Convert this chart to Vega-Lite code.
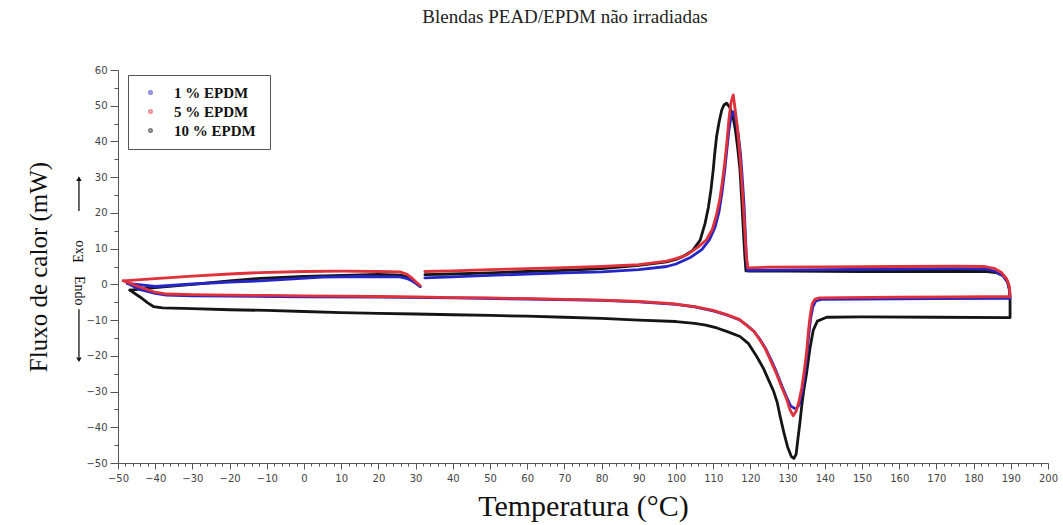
{
  "$schema": "https://vega.github.io/schema/vega-lite/v6.json",
  "width": 930,
  "height": 393,
  "autosize": {"type": "none"},
  "padding": {"left": 118, "top": 70, "right": 15, "bottom": 62},
  "background": "white",
  "config": {"view": {"stroke": null}, "font": "Liberation Serif"},
  "title": {"text": "Blendas PEAD/EPDM não irradiadas", "font": "Liberation Serif", "fontSize": 19, "fontWeight": "normal", "color": "#222", "anchor": "middle", "dx": -18, "offset": 38},
  "datasets": {
    "curves": [
      {"s":"10  % EPDM","g":"k1","i":1,"t":-46.8,"q":-1.6},{"s":"10  % EPDM","g":"k1","i":2,"t":-44,"q":-3.6},{"s":"10  % EPDM","g":"k1","i":3,"t":-42,"q":-5.2},{"s":"10  % EPDM","g":"k1","i":4,"t":-40.5,"q":-6.2},{"s":"10  % EPDM","g":"k1","i":5,"t":-38,"q":-6.6},{"s":"10  % EPDM","g":"k1","i":6,"t":-30,"q":-6.8},{"s":"10  % EPDM","g":"k1","i":7,"t":-20,"q":-7.1},{"s":"10  % EPDM","g":"k1","i":8,"t":-10,"q":-7.3},{"s":"10  % EPDM","g":"k1","i":9,"t":0,"q":-7.6},{"s":"10  % EPDM","g":"k1","i":10,"t":10,"q":-7.9},
      {"s":"10  % EPDM","g":"k1","i":11,"t":20,"q":-8.1},{"s":"10  % EPDM","g":"k1","i":12,"t":30,"q":-8.3},{"s":"10  % EPDM","g":"k1","i":13,"t":40,"q":-8.5},{"s":"10  % EPDM","g":"k1","i":14,"t":50,"q":-8.7},{"s":"10  % EPDM","g":"k1","i":15,"t":60,"q":-8.9},{"s":"10  % EPDM","g":"k1","i":16,"t":70,"q":-9.2},{"s":"10  % EPDM","g":"k1","i":17,"t":80,"q":-9.5},{"s":"10  % EPDM","g":"k1","i":18,"t":90,"q":-10.0},{"s":"10  % EPDM","g":"k1","i":19,"t":100,"q":-10.4},{"s":"10  % EPDM","g":"k1","i":20,"t":105,"q":-10.9},
      {"s":"10  % EPDM","g":"k1","i":21,"t":108,"q":-11.4},{"s":"10  % EPDM","g":"k1","i":22,"t":111,"q":-12.2},{"s":"10  % EPDM","g":"k1","i":23,"t":114,"q":-13.3},{"s":"10  % EPDM","g":"k1","i":24,"t":117.2,"q":-14.6},{"s":"10  % EPDM","g":"k1","i":25,"t":119.5,"q":-16.6},{"s":"10  % EPDM","g":"k1","i":26,"t":121.7,"q":-20.2},{"s":"10  % EPDM","g":"k1","i":27,"t":123.5,"q":-23.5},{"s":"10  % EPDM","g":"k1","i":28,"t":125,"q":-27},{"s":"10  % EPDM","g":"k1","i":29,"t":126.2,"q":-29.8},{"s":"10  % EPDM","g":"k1","i":30,"t":127.2,"q":-33},
      {"s":"10  % EPDM","g":"k1","i":31,"t":128,"q":-37},{"s":"10  % EPDM","g":"k1","i":32,"t":129,"q":-41.5},{"s":"10  % EPDM","g":"k1","i":33,"t":130,"q":-45.5},{"s":"10  % EPDM","g":"k1","i":34,"t":131,"q":-48.2},{"s":"10  % EPDM","g":"k1","i":35,"t":131.7,"q":-48.7},{"s":"10  % EPDM","g":"k1","i":36,"t":132.3,"q":-47.5},{"s":"10  % EPDM","g":"k1","i":37,"t":132.8,"q":-43},{"s":"10  % EPDM","g":"k1","i":38,"t":133.3,"q":-38.8},{"s":"10  % EPDM","g":"k1","i":39,"t":133.8,"q":-34},{"s":"10  % EPDM","g":"k1","i":40,"t":134.3,"q":-30},
      {"s":"10  % EPDM","g":"k1","i":41,"t":135.1,"q":-24.9},{"s":"10  % EPDM","g":"k1","i":42,"t":136,"q":-18},{"s":"10  % EPDM","g":"k1","i":43,"t":136.9,"q":-12.8},{"s":"10  % EPDM","g":"k1","i":44,"t":138,"q":-10.3},{"s":"10  % EPDM","g":"k1","i":45,"t":140.5,"q":-9.2},{"s":"10  % EPDM","g":"k1","i":46,"t":150,"q":-9.1},{"s":"10  % EPDM","g":"k1","i":47,"t":170,"q":-9.2},{"s":"10  % EPDM","g":"k1","i":48,"t":189.8,"q":-9.3},{"s":"10  % EPDM","g":"k1","i":49,"t":189.8,"q":-4.4},{"s":"10  % EPDM","g":"k1","i":50,"t":189.6,"q":-1.5},
      {"s":"10  % EPDM","g":"k1","i":51,"t":189.1,"q":0.8},{"s":"10  % EPDM","g":"k1","i":52,"t":188,"q":2.4},{"s":"10  % EPDM","g":"k1","i":53,"t":186,"q":3.3},{"s":"10  % EPDM","g":"k1","i":54,"t":183.5,"q":3.6},{"s":"10  % EPDM","g":"k1","i":55,"t":170,"q":3.6},{"s":"10  % EPDM","g":"k1","i":56,"t":150,"q":3.6},{"s":"10  % EPDM","g":"k1","i":57,"t":130,"q":3.7},{"s":"10  % EPDM","g":"k1","i":58,"t":120,"q":3.7},{"s":"10  % EPDM","g":"k1","i":59,"t":118.8,"q":3.8},{"s":"10  % EPDM","g":"k1","i":60,"t":118.5,"q":8},
      {"s":"10  % EPDM","g":"k1","i":61,"t":118.2,"q":13.3},{"s":"10  % EPDM","g":"k1","i":62,"t":117.7,"q":23},{"s":"10  % EPDM","g":"k1","i":63,"t":117.2,"q":32},{"s":"10  % EPDM","g":"k1","i":64,"t":116.6,"q":38},{"s":"10  % EPDM","g":"k1","i":65,"t":116,"q":43},{"s":"10  % EPDM","g":"k1","i":66,"t":115.4,"q":46.5},{"s":"10  % EPDM","g":"k1","i":67,"t":114.5,"q":49.5},{"s":"10  % EPDM","g":"k1","i":68,"t":113.6,"q":50.7},{"s":"10  % EPDM","g":"k1","i":69,"t":112.9,"q":50.2},{"s":"10  % EPDM","g":"k1","i":70,"t":112.3,"q":48.8},
      {"s":"10  % EPDM","g":"k1","i":71,"t":111.6,"q":45.5},{"s":"10  % EPDM","g":"k1","i":72,"t":110.9,"q":41.3},{"s":"10  % EPDM","g":"k1","i":73,"t":110.4,"q":36.5},{"s":"10  % EPDM","g":"k1","i":74,"t":110,"q":32},{"s":"10  % EPDM","g":"k1","i":75,"t":109.4,"q":26.5},{"s":"10  % EPDM","g":"k1","i":76,"t":108.7,"q":21.5},{"s":"10  % EPDM","g":"k1","i":77,"t":107.8,"q":17},{"s":"10  % EPDM","g":"k1","i":78,"t":106.5,"q":12.4},{"s":"10  % EPDM","g":"k1","i":79,"t":104.5,"q":9.5},{"s":"10  % EPDM","g":"k1","i":80,"t":101.9,"q":7.8},
      {"s":"10  % EPDM","g":"k1","i":81,"t":100,"q":7.0},{"s":"10  % EPDM","g":"k1","i":82,"t":97.5,"q":6.3},{"s":"10  % EPDM","g":"k1","i":83,"t":90,"q":5.3},{"s":"10  % EPDM","g":"k1","i":84,"t":80,"q":4.4},{"s":"10  % EPDM","g":"k1","i":85,"t":70,"q":3.9},{"s":"10  % EPDM","g":"k1","i":86,"t":60,"q":3.6},{"s":"10  % EPDM","g":"k1","i":87,"t":50,"q":3.2},{"s":"10  % EPDM","g":"k1","i":88,"t":40,"q":2.9},{"s":"10  % EPDM","g":"k1","i":89,"t":32.5,"q":2.7},
      {"s":"10  % EPDM","g":"k2","i":1,"t":31.2,"q":-0.6},{"s":"10  % EPDM","g":"k2","i":2,"t":30.5,"q":0},{"s":"10  % EPDM","g":"k2","i":3,"t":29.5,"q":0.9},{"s":"10  % EPDM","g":"k2","i":4,"t":28,"q":1.9},{"s":"10  % EPDM","g":"k2","i":5,"t":26,"q":2.6},{"s":"10  % EPDM","g":"k2","i":6,"t":20,"q":2.8},{"s":"10  % EPDM","g":"k2","i":7,"t":13,"q":2.6},{"s":"10  % EPDM","g":"k2","i":8,"t":0,"q":2.2},{"s":"10  % EPDM","g":"k2","i":9,"t":-11.8,"q":1.7},{"s":"10  % EPDM","g":"k2","i":10,"t":-20,"q":1.0},{"s":"10  % EPDM","g":"k2","i":11,"t":-30,"q":0.0},{"s":"10  % EPDM","g":"k2","i":12,"t":-40,"q":-0.9},{"s":"10  % EPDM","g":"k2","i":13,"t":-46.8,"q":-1.6},

      {"s":"1 % EPDM","g":"b1","i":1,"t":-47.5,"q":0.3},{"s":"1 % EPDM","g":"b1","i":2,"t":-44,"q":-1.5},{"s":"1 % EPDM","g":"b1","i":3,"t":-40,"q":-2.5},{"s":"1 % EPDM","g":"b1","i":4,"t":-37,"q":-3.0},{"s":"1 % EPDM","g":"b1","i":5,"t":-30,"q":-3.2},{"s":"1 % EPDM","g":"b1","i":6,"t":-20,"q":-3.3},{"s":"1 % EPDM","g":"b1","i":7,"t":0,"q":-3.5},{"s":"1 % EPDM","g":"b1","i":8,"t":20,"q":-3.6},{"s":"1 % EPDM","g":"b1","i":9,"t":40,"q":-3.8},{"s":"1 % EPDM","g":"b1","i":10,"t":60,"q":-4.1},
      {"s":"1 % EPDM","g":"b1","i":11,"t":80,"q":-4.5},{"s":"1 % EPDM","g":"b1","i":12,"t":90,"q":-4.9},{"s":"1 % EPDM","g":"b1","i":13,"t":100,"q":-5.6},{"s":"1 % EPDM","g":"b1","i":14,"t":105,"q":-6.3},{"s":"1 % EPDM","g":"b1","i":15,"t":110,"q":-7.4},{"s":"1 % EPDM","g":"b1","i":16,"t":114,"q":-8.7},{"s":"1 % EPDM","g":"b1","i":17,"t":117,"q":-9.9},{"s":"1 % EPDM","g":"b1","i":18,"t":119,"q":-11.4},{"s":"1 % EPDM","g":"b1","i":19,"t":121,"q":-13.2},{"s":"1 % EPDM","g":"b1","i":20,"t":122.5,"q":-15.3},
      {"s":"1 % EPDM","g":"b1","i":21,"t":124,"q":-17.8},{"s":"1 % EPDM","g":"b1","i":22,"t":125.5,"q":-21},{"s":"1 % EPDM","g":"b1","i":23,"t":127,"q":-24.5},{"s":"1 % EPDM","g":"b1","i":24,"t":128.5,"q":-28.5},{"s":"1 % EPDM","g":"b1","i":25,"t":129.7,"q":-31.5},{"s":"1 % EPDM","g":"b1","i":26,"t":130.8,"q":-34},{"s":"1 % EPDM","g":"b1","i":27,"t":132.3,"q":-35.0},{"s":"1 % EPDM","g":"b1","i":28,"t":133.2,"q":-33.5},{"s":"1 % EPDM","g":"b1","i":29,"t":133.9,"q":-30},{"s":"1 % EPDM","g":"b1","i":30,"t":134.6,"q":-25},
      {"s":"1 % EPDM","g":"b1","i":31,"t":135.2,"q":-19.5},{"s":"1 % EPDM","g":"b1","i":32,"t":135.7,"q":-14},{"s":"1 % EPDM","g":"b1","i":33,"t":136.2,"q":-9.5},{"s":"1 % EPDM","g":"b1","i":34,"t":136.8,"q":-6.2},{"s":"1 % EPDM","g":"b1","i":35,"t":137.6,"q":-4.6},{"s":"1 % EPDM","g":"b1","i":36,"t":139,"q":-4.2},{"s":"1 % EPDM","g":"b1","i":37,"t":150,"q":-4.1},{"s":"1 % EPDM","g":"b1","i":38,"t":170,"q":-4.0},{"s":"1 % EPDM","g":"b1","i":39,"t":189.8,"q":-3.9},{"s":"1 % EPDM","g":"b1","i":40,"t":189.7,"q":-1.5},
      {"s":"1 % EPDM","g":"b1","i":41,"t":189.2,"q":0.5},{"s":"1 % EPDM","g":"b1","i":42,"t":188,"q":2.3},{"s":"1 % EPDM","g":"b1","i":43,"t":186,"q":3.6},{"s":"1 % EPDM","g":"b1","i":44,"t":183.5,"q":4.3},{"s":"1 % EPDM","g":"b1","i":45,"t":175,"q":4.4},{"s":"1 % EPDM","g":"b1","i":46,"t":160,"q":4.3},{"s":"1 % EPDM","g":"b1","i":47,"t":140,"q":4.1},{"s":"1 % EPDM","g":"b1","i":48,"t":125,"q":4.0},{"s":"1 % EPDM","g":"b1","i":49,"t":119.2,"q":3.9},{"s":"1 % EPDM","g":"b1","i":50,"t":118.9,"q":8},
      {"s":"1 % EPDM","g":"b1","i":51,"t":118.6,"q":15},{"s":"1 % EPDM","g":"b1","i":52,"t":118.3,"q":22},{"s":"1 % EPDM","g":"b1","i":53,"t":117.8,"q":30},{"s":"1 % EPDM","g":"b1","i":54,"t":117.3,"q":37},{"s":"1 % EPDM","g":"b1","i":55,"t":116.6,"q":43},{"s":"1 % EPDM","g":"b1","i":56,"t":116,"q":46.5},{"s":"1 % EPDM","g":"b1","i":57,"t":115.4,"q":48.3},{"s":"1 % EPDM","g":"b1","i":58,"t":114.8,"q":47},{"s":"1 % EPDM","g":"b1","i":59,"t":114.2,"q":43},{"s":"1 % EPDM","g":"b1","i":60,"t":113.7,"q":38},
      {"s":"1 % EPDM","g":"b1","i":61,"t":113.1,"q":32},{"s":"1 % EPDM","g":"b1","i":62,"t":112.4,"q":26},{"s":"1 % EPDM","g":"b1","i":63,"t":111.6,"q":20.5},{"s":"1 % EPDM","g":"b1","i":64,"t":110.5,"q":16},{"s":"1 % EPDM","g":"b1","i":65,"t":109,"q":12.5},{"s":"1 % EPDM","g":"b1","i":66,"t":107,"q":9.8},{"s":"1 % EPDM","g":"b1","i":67,"t":104,"q":7.6},{"s":"1 % EPDM","g":"b1","i":68,"t":100,"q":5.7},{"s":"1 % EPDM","g":"b1","i":69,"t":97.5,"q":5.0},{"s":"1 % EPDM","g":"b1","i":70,"t":90,"q":4.1},
      {"s":"1 % EPDM","g":"b1","i":71,"t":80,"q":3.5},{"s":"1 % EPDM","g":"b1","i":72,"t":70,"q":3.2},{"s":"1 % EPDM","g":"b1","i":73,"t":60,"q":2.9},{"s":"1 % EPDM","g":"b1","i":74,"t":50,"q":2.5},{"s":"1 % EPDM","g":"b1","i":75,"t":40,"q":2.1},{"s":"1 % EPDM","g":"b1","i":76,"t":32.5,"q":1.8},
      {"s":"1 % EPDM","g":"b2","i":1,"t":31.2,"q":-0.6},{"s":"1 % EPDM","g":"b2","i":2,"t":30.2,"q":0.2},{"s":"1 % EPDM","g":"b2","i":3,"t":29,"q":1.0},{"s":"1 % EPDM","g":"b2","i":4,"t":27.5,"q":1.7},{"s":"1 % EPDM","g":"b2","i":5,"t":25.8,"q":2.1},{"s":"1 % EPDM","g":"b2","i":6,"t":15,"q":2.2},{"s":"1 % EPDM","g":"b2","i":7,"t":5,"q":2.0},{"s":"1 % EPDM","g":"b2","i":8,"t":-11.8,"q":1.0},{"s":"1 % EPDM","g":"b2","i":9,"t":-20,"q":0.6},{"s":"1 % EPDM","g":"b2","i":10,"t":-30,"q":0.1},{"s":"1 % EPDM","g":"b2","i":11,"t":-40,"q":-0.6},{"s":"1 % EPDM","g":"b2","i":12,"t":-47.5,"q":0.3},

      {"s":"5 % EPDM","g":"r1","i":1,"t":-48.6,"q":1.0},{"s":"5 % EPDM","g":"r1","i":2,"t":-44,"q":-0.8},{"s":"5 % EPDM","g":"r1","i":3,"t":-40,"q":-2.2},{"s":"5 % EPDM","g":"r1","i":4,"t":-37,"q":-2.7},{"s":"5 % EPDM","g":"r1","i":5,"t":-30,"q":-2.9},{"s":"5 % EPDM","g":"r1","i":6,"t":-20,"q":-3.0},{"s":"5 % EPDM","g":"r1","i":7,"t":-10,"q":-3.1},{"s":"5 % EPDM","g":"r1","i":8,"t":0,"q":-3.2},{"s":"5 % EPDM","g":"r1","i":9,"t":10,"q":-3.3},{"s":"5 % EPDM","g":"r1","i":10,"t":20,"q":-3.4},
      {"s":"5 % EPDM","g":"r1","i":11,"t":30,"q":-3.5},{"s":"5 % EPDM","g":"r1","i":12,"t":40,"q":-3.7},{"s":"5 % EPDM","g":"r1","i":13,"t":50,"q":-3.8},{"s":"5 % EPDM","g":"r1","i":14,"t":60,"q":-4.0},{"s":"5 % EPDM","g":"r1","i":15,"t":70,"q":-4.2},{"s":"5 % EPDM","g":"r1","i":16,"t":80,"q":-4.4},{"s":"5 % EPDM","g":"r1","i":17,"t":90,"q":-4.8},{"s":"5 % EPDM","g":"r1","i":18,"t":95,"q":-5.1},{"s":"5 % EPDM","g":"r1","i":19,"t":100,"q":-5.5},{"s":"5 % EPDM","g":"r1","i":20,"t":105,"q":-6.2},
      {"s":"5 % EPDM","g":"r1","i":21,"t":110,"q":-7.3},{"s":"5 % EPDM","g":"r1","i":22,"t":114,"q":-8.6},{"s":"5 % EPDM","g":"r1","i":23,"t":117,"q":-9.8},{"s":"5 % EPDM","g":"r1","i":24,"t":119,"q":-11.5},{"s":"5 % EPDM","g":"r1","i":25,"t":121,"q":-13.2},{"s":"5 % EPDM","g":"r1","i":26,"t":122.5,"q":-15.5},{"s":"5 % EPDM","g":"r1","i":27,"t":124,"q":-18},{"s":"5 % EPDM","g":"r1","i":28,"t":125.5,"q":-21.5},{"s":"5 % EPDM","g":"r1","i":29,"t":127,"q":-25},{"s":"5 % EPDM","g":"r1","i":30,"t":128.5,"q":-29},
      {"s":"5 % EPDM","g":"r1","i":31,"t":129.7,"q":-32},{"s":"5 % EPDM","g":"r1","i":32,"t":130.6,"q":-35},{"s":"5 % EPDM","g":"r1","i":33,"t":131.5,"q":-36.8},{"s":"5 % EPDM","g":"r1","i":34,"t":132.3,"q":-35.5},{"s":"5 % EPDM","g":"r1","i":35,"t":133,"q":-33},{"s":"5 % EPDM","g":"r1","i":36,"t":133.8,"q":-29},{"s":"5 % EPDM","g":"r1","i":37,"t":134.5,"q":-24},{"s":"5 % EPDM","g":"r1","i":38,"t":135.1,"q":-19},{"s":"5 % EPDM","g":"r1","i":39,"t":135.6,"q":-13},{"s":"5 % EPDM","g":"r1","i":40,"t":136.1,"q":-8.5},
      {"s":"5 % EPDM","g":"r1","i":41,"t":136.6,"q":-5.5},{"s":"5 % EPDM","g":"r1","i":42,"t":137.3,"q":-4.2},{"s":"5 % EPDM","g":"r1","i":43,"t":138.5,"q":-3.8},{"s":"5 % EPDM","g":"r1","i":44,"t":145,"q":-3.7},{"s":"5 % EPDM","g":"r1","i":45,"t":160,"q":-3.6},{"s":"5 % EPDM","g":"r1","i":46,"t":175,"q":-3.5},{"s":"5 % EPDM","g":"r1","i":47,"t":189.8,"q":-3.4},{"s":"5 % EPDM","g":"r1","i":48,"t":189.6,"q":-0.5},{"s":"5 % EPDM","g":"r1","i":49,"t":188.9,"q":1.5},{"s":"5 % EPDM","g":"r1","i":50,"t":187.5,"q":3.3},
      {"s":"5 % EPDM","g":"r1","i":51,"t":185.5,"q":4.5},{"s":"5 % EPDM","g":"r1","i":52,"t":183,"q":5.0},{"s":"5 % EPDM","g":"r1","i":53,"t":175,"q":5.1},{"s":"5 % EPDM","g":"r1","i":54,"t":160,"q":5.0},{"s":"5 % EPDM","g":"r1","i":55,"t":140,"q":4.9},{"s":"5 % EPDM","g":"r1","i":56,"t":125,"q":4.8},{"s":"5 % EPDM","g":"r1","i":57,"t":119.3,"q":4.6},{"s":"5 % EPDM","g":"r1","i":58,"t":118.9,"q":8},{"s":"5 % EPDM","g":"r1","i":59,"t":118.5,"q":15},{"s":"5 % EPDM","g":"r1","i":60,"t":118.1,"q":22},
      {"s":"5 % EPDM","g":"r1","i":61,"t":117.6,"q":30},{"s":"5 % EPDM","g":"r1","i":62,"t":117.1,"q":37},{"s":"5 % EPDM","g":"r1","i":63,"t":116.5,"q":44},{"s":"5 % EPDM","g":"r1","i":64,"t":115.9,"q":49},{"s":"5 % EPDM","g":"r1","i":65,"t":115.4,"q":53},{"s":"5 % EPDM","g":"r1","i":66,"t":114.8,"q":51},{"s":"5 % EPDM","g":"r1","i":67,"t":114.2,"q":46},{"s":"5 % EPDM","g":"r1","i":68,"t":113.7,"q":40},{"s":"5 % EPDM","g":"r1","i":69,"t":113.1,"q":34},{"s":"5 % EPDM","g":"r1","i":70,"t":112.5,"q":29},
      {"s":"5 % EPDM","g":"r1","i":71,"t":111.8,"q":24},{"s":"5 % EPDM","g":"r1","i":72,"t":110.9,"q":19.5},{"s":"5 % EPDM","g":"r1","i":73,"t":109.8,"q":15.5},{"s":"5 % EPDM","g":"r1","i":74,"t":108.2,"q":12.5},{"s":"5 % EPDM","g":"r1","i":75,"t":106,"q":10.5},{"s":"5 % EPDM","g":"r1","i":76,"t":103,"q":8.3},{"s":"5 % EPDM","g":"r1","i":77,"t":100,"q":7.2},{"s":"5 % EPDM","g":"r1","i":78,"t":97.5,"q":6.5},{"s":"5 % EPDM","g":"r1","i":79,"t":90,"q":5.5},{"s":"5 % EPDM","g":"r1","i":80,"t":80,"q":5.0},
      {"s":"5 % EPDM","g":"r1","i":81,"t":70,"q":4.7},{"s":"5 % EPDM","g":"r1","i":82,"t":60,"q":4.4},{"s":"5 % EPDM","g":"r1","i":83,"t":50,"q":4.1},{"s":"5 % EPDM","g":"r1","i":84,"t":40,"q":3.8},{"s":"5 % EPDM","g":"r1","i":85,"t":32.5,"q":3.6},
      {"s":"5 % EPDM","g":"r2","i":1,"t":31.2,"q":-0.3},{"s":"5 % EPDM","g":"r2","i":2,"t":30.2,"q":0.6},{"s":"5 % EPDM","g":"r2","i":3,"t":29,"q":1.8},{"s":"5 % EPDM","g":"r2","i":4,"t":27.5,"q":2.9},{"s":"5 % EPDM","g":"r2","i":5,"t":25.8,"q":3.5},{"s":"5 % EPDM","g":"r2","i":6,"t":20,"q":3.6},{"s":"5 % EPDM","g":"r2","i":7,"t":10,"q":3.7},{"s":"5 % EPDM","g":"r2","i":8,"t":0,"q":3.6},{"s":"5 % EPDM","g":"r2","i":9,"t":-11.8,"q":3.3},{"s":"5 % EPDM","g":"r2","i":10,"t":-20,"q":2.9},{"s":"5 % EPDM","g":"r2","i":11,"t":-30,"q":2.3},{"s":"5 % EPDM","g":"r2","i":12,"t":-40,"q":1.6},{"s":"5 % EPDM","g":"r2","i":13,"t":-48.6,"q":1.0}
    ],
    "notes": [
      {"t": -60.5, "q": 9.2, "label": "Exo", "a": 270},
      {"t": -60.5, "q": -1.8, "label": "Endo", "a": 90}
    ],
    "arrows": [
      {"t": -60.5, "q1": 20.5, "q2": 29, "tip": 29.6, "dir": "up"},
      {"t": -60.5, "q1": -7, "q2": -20.5, "tip": -21.1, "dir": "down"}
    ]
  },
  "encoding": {
    "x": {"field": "t", "type": "quantitative",
      "scale": {"domain": [-50, 200], "nice": false, "zero": false},
      "axis": {
        "title": "Temperatura (°C)",
        "values": [-50,-48,-46,-44,-42,-40,-38,-36,-34,-32,-30,-28,-26,-24,-22,-20,-18,-16,-14,-12,-10,-8,-6,-4,-2,0,2,4,6,8,10,12,14,16,18,20,22,24,26,28,30,32,34,36,38,40,42,44,46,48,50,52,54,56,58,60,62,64,66,68,70,72,74,76,78,80,82,84,86,88,90,92,94,96,98,100,102,104,106,108,110,112,114,116,118,120,122,124,126,128,130,132,134,136,138,140,142,144,146,148,150,152,154,156,158,160,162,164,166,168,170,172,174,176,178,180,182,184,186,188,190,192,194,196,198,200],
        "labelExpr": "datum.value % 10 === 0 ? datum.label : ''",
        "grid": false, "domainColor": "#555", "tickColor": "#555",
        "tickSize": {"condition": {"test": "datum.value % 10 === 0", "value": 6}, "value": 3},
        "labelFont": "DejaVu Sans", "labelFontSize": 10, "labelColor": "#444", "labelPadding": 4,
        "labelFlush": false, "labelOverlap": false,
        "titleFont": "Liberation Serif", "titleFontSize": 30, "titleFontWeight": "normal", "titleColor": "#111",
        "titleX": 465, "titleY": 43, "titleBaseline": "middle", "titleAlign": "center"
      }
    },
    "y": {"field": "q", "type": "quantitative",
      "scale": {"domain": [-50, 60], "nice": false, "zero": false},
      "axis": {
        "title": "Fluxo de calor (mW)",
        "values": [-50,-45,-40,-35,-30,-25,-20,-15,-10,-5,0,5,10,15,20,25,30,35,40,45,50,55,60],
        "labelExpr": "datum.value % 10 === 0 ? datum.label : ''",
        "grid": false, "domainColor": "#555", "tickColor": "#555",
        "tickSize": {"condition": {"test": "datum.value % 10 === 0", "value": 8}, "value": 4},
        "labelFont": "DejaVu Sans", "labelFontSize": 10, "labelColor": "#444", "labelPadding": 3,
        "labelFlush": false, "labelOverlap": false,
        "titleFont": "Liberation Serif", "titleFontSize": 25, "titleFontWeight": "normal", "titleColor": "#111",
        "titleX": -80, "titleY": 196.5, "titleAngle": 270, "titleBaseline": "middle", "titleAlign": "center"
      }
    }
  },
  "layer": [
    {
      "data": {"name": "curves"},
      "mark": {"type": "line", "strokeWidth": 2.8, "strokeJoin": "round", "strokeCap": "round"},
      "encoding": {
        "color": {"field": "s", "type": "nominal",
          "scale": {"domain": ["1 % EPDM", "5 % EPDM", "10  % EPDM"], "range": ["#2525c8", "#e0303a", "#151515"]},
          "legend": {"orient": "none", "legendX": 10, "legendY": 5, "title": null,
            "strokeColor": "#555", "fillColor": "white", "padding": 10,
            "symbolType": "circle", "symbolSize": 9, "symbolOpacity": 0.55, "symbolStrokeWidth": 2, "symbolOffset": 5,
            "labelFont": "Liberation Serif", "labelFontSize": 15, "labelFontWeight": "bold", "labelColor": "#111",
            "labelOffset": 16, "rowPadding": 3}
        },
        "detail": {"field": "g"},
        "order": {"field": "i", "type": "quantitative"}
      }
    },
    {
      "data": {"name": "notes"},
      "mark": {"type": "text", "font": "Liberation Serif", "fontSize": 14, "color": "#111", "baseline": "middle", "align": "center"},
      "encoding": {
        "text": {"field": "label"},
        "angle": {"field": "a", "type": "quantitative", "scale": null}
      }
    },
    {
      "data": {"name": "arrows"},
      "mark": {"type": "rule", "strokeWidth": 1.3, "color": "#111"},
      "encoding": {"y": {"field": "q1", "type": "quantitative"}, "y2": {"field": "q2"}}
    },
    {
      "data": {"name": "arrows"},
      "mark": {"type": "point", "filled": true, "size": 30, "opacity": 1, "color": "#111"},
      "encoding": {
        "y": {"field": "tip", "type": "quantitative"},
        "shape": {"field": "dir", "type": "nominal", "scale": {"domain": ["up", "down"], "range": ["triangle-up", "triangle-down"]}, "legend": null}
      }
    }
  ]
}
